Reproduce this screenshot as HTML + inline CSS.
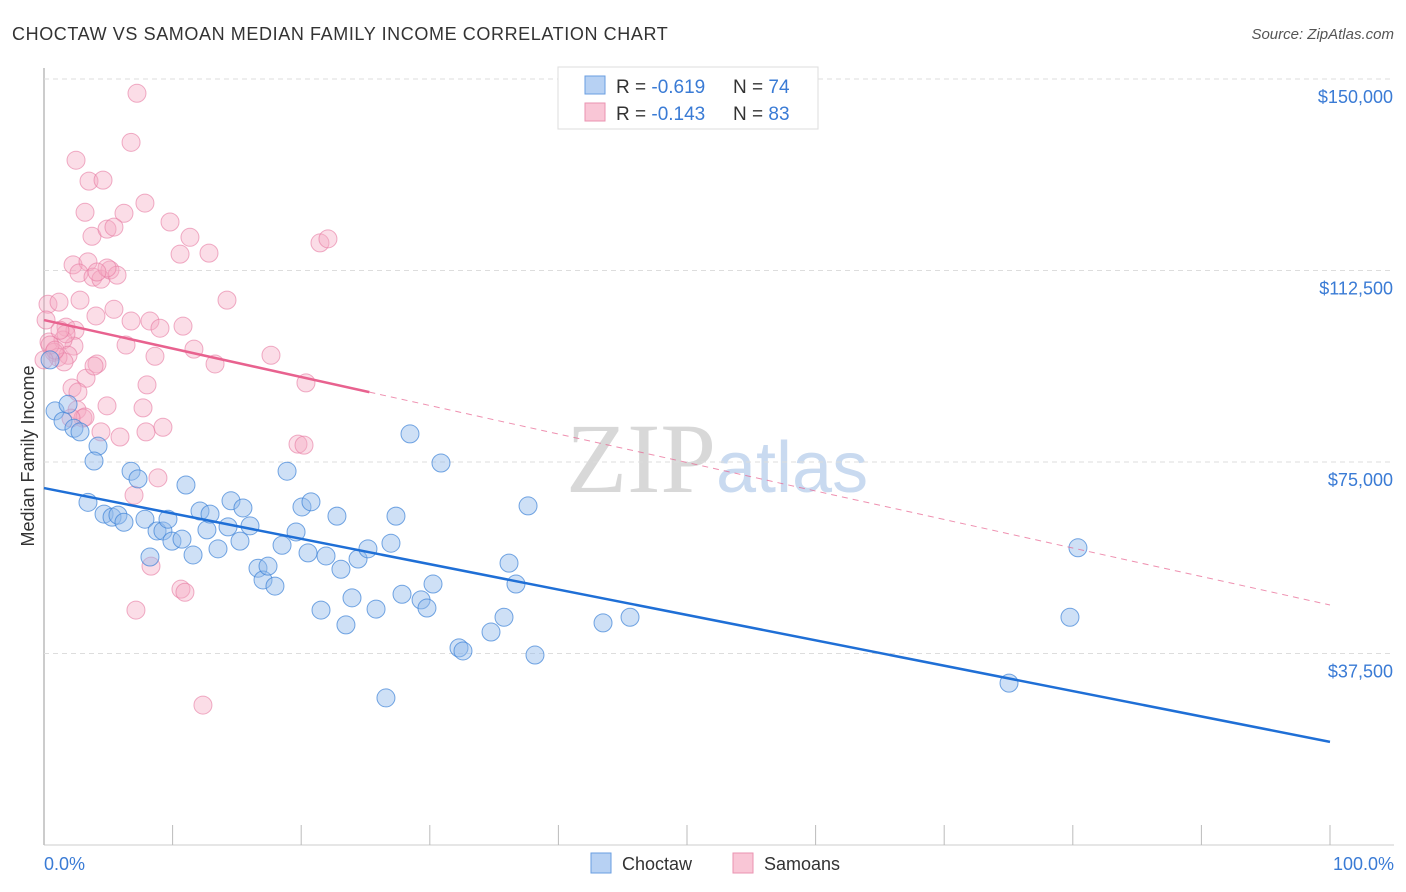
<!DOCTYPE html>
<html><head><meta charset="utf-8"><style>
body{margin:0;background:#fff;font-family:"Liberation Sans",sans-serif}
</style></head><body>
<svg id="c" width="1406" height="892" xmlns="http://www.w3.org/2000/svg" style="display:block">
<text x="12" y="40" font-size="18" fill="#333" letter-spacing="0.6">CHOCTAW VS SAMOAN MEDIAN FAMILY INCOME CORRELATION CHART</text>
<text x="1394" y="39" font-size="15" fill="#555" text-anchor="end" font-style="italic">Source: ZipAtlas.com</text>
<text x="716" y="492" font-size="100" fill="#d8d8d8" text-anchor="end" font-family="Liberation Serif">ZIP</text>
<text x="716" y="492" font-size="72" fill="#c9daf0">atlas</text>
<g id="grid"></g><g id="pts"></g><g id="lines"></g>
<text x="34" y="456" font-size="18" fill="#333" text-anchor="middle" transform="rotate(-90 34 456)">Median Family Income</text>
<text x="44" y="870" font-size="18" fill="#3a7bd5">0.0%</text>
<text x="1394" y="870" font-size="18" fill="#3a7bd5" text-anchor="end">100.0%</text>
<g>
<rect x="558" y="67" width="260" height="62" fill="#fff" stroke="#ddd"/>
<rect x="585" y="76" width="20" height="18" fill="#b7d1f3" stroke="#6a9ee0"/>
<rect x="585" y="103" width="20" height="18" fill="#f9c6d6" stroke="#ea93b0"/>
<text x="616" y="93" font-size="19" fill="#333">R = <tspan fill="#3a7bd5">-0.619</tspan></text>
<text x="733" y="93" font-size="19" fill="#333">N = <tspan fill="#3a7bd5">74</tspan></text>
<text x="616" y="120" font-size="19" fill="#333">R = <tspan fill="#3a7bd5">-0.143</tspan></text>
<text x="733" y="120" font-size="19" fill="#333">N = <tspan fill="#3a7bd5">83</tspan></text>
</g>
<g>
<rect x="591" y="853" width="20" height="20" fill="#b7d1f3" stroke="#6a9ee0"/>
<text x="622" y="870" font-size="18" fill="#333">Choctaw</text>
<rect x="733" y="853" width="20" height="20" fill="#f9c6d6" stroke="#ea93b0"/>
<text x="764" y="870" font-size="18" fill="#333">Samoans</text>
</g>
</svg>
<script>
const yTicks=[37500,75000,112500,150000];
const yTickLabels=["$37,500","$75,000","$112,500","$150,000"];
const xTicks=[0,10,20,30,40,50,60,70,80,90,100];
const choctawX=[0.86,1.48,1.87,2.33,2.80,4.20,3.89,3.42,4.67,5.29,5.75,6.22,6.77,7.31,7.85,8.24,8.79,9.25,9.64,9.95,10.73,11.04,11.59,12.13,12.67,12.91,13.53,14.31,14.54,15.24,15.47,16.02,16.64,17.03,17.42,17.96,18.51,18.90,19.60,20.06,20.53,20.76,21.54,21.93,22.78,23.09,23.48,23.95,24.42,25.19,25.82,26.98,27.37,27.84,28.46,29.32,29.78,30.25,30.87,32.27,32.58,34.76,35.77,36.16,36.70,37.64,38.18,43.47,45.57,75.04,79.78,80.40,26.59,0.47];
const choctawY=[85.0,83.0,86.3,81.6,80.9,78.1,75.2,67.1,64.8,64.2,64.6,63.2,73.2,71.7,63.8,56.4,61.5,61.5,63.8,59.5,59.9,70.5,56.8,65.4,61.7,64.8,58.0,62.3,67.4,59.5,66.0,62.5,54.2,51.9,54.6,50.7,58.7,73.2,61.3,66.2,57.2,67.2,46.0,56.6,64.4,54.0,43.1,48.4,56.0,58.0,46.2,59.1,64.4,49.1,80.5,48.0,46.4,51.1,74.8,38.6,38.0,41.7,44.6,55.2,51.1,66.4,37.2,43.5,44.6,31.7,44.6,58.2,28.8,95.0];
const samoanX=[7.23,6.77,2.49,3.50,4.59,3.19,6.22,7.85,9.80,11.35,3.73,4.90,5.44,10.58,12.83,21.46,22.08,2.26,3.42,2.72,3.81,4.43,5.13,5.68,4.90,4.12,14.23,0.31,1.17,0.16,1.71,2.41,4.04,5.44,6.77,8.24,9.02,10.81,2.33,0.39,1.48,0.78,1.87,1.09,6.38,8.63,11.66,17.65,4.12,13.30,3.27,2.18,8.01,20.37,2.64,2.57,3.03,4.90,7.70,3.19,4.43,5.91,7.93,9.25,3.89,7.00,8.86,8.32,10.65,10.96,19.75,20.22,7.15,12.36,1.56,2.10,1.71,0.47,0.86,1.24,0.0,2.80];
const samoanY=[147.2,137.6,134.1,130.0,130.2,123.9,123.7,125.7,122.0,119.0,119.2,120.6,121.0,115.7,115.9,117.9,118.7,113.6,114.2,112.0,111.2,110.8,112.6,111.6,113.0,112.2,106.7,105.9,106.3,102.8,101.4,100.8,103.6,104.9,102.6,102.6,101.2,101.6,97.7,98.5,98.9,96.5,95.9,95.5,97.9,95.7,97.1,95.9,94.2,94.2,91.4,89.5,90.1,90.5,88.7,85.2,83.6,86.0,85.6,83.8,80.9,79.9,80.9,81.8,93.8,68.5,71.9,54.6,50.1,49.5,78.5,78.3,46.0,27.4,94.6,83.6,100.1,97.9,96.9,100.8,95.0,106.7];
const choctawTrend=[69.9,20.2];
const samoanTrend=[102.8,47.0];
const samoanSolidEnd=25.3;
const NS="http://www.w3.org/2000/svg";
const sx=p=>44+p*12.86;
const sy=v=>845-v/150000*766;
function mk(t,a,parent){const e=document.createElementNS(NS,t);for(const k in a)e.setAttribute(k,a[k]);parent.appendChild(e);return e;}
const g=document.getElementById('grid'),P=document.getElementById('pts'),L=document.getElementById('lines');
const ax=mk('line',{x1:44,y1:68,x2:44,y2:845,stroke:'#bbb','stroke-width':1.5},g);


const bx=mk('line',{x1:44,y1:845,x2:1394,y2:845,stroke:'#ccc'},g);


yTicks.forEach((v,i)=>{
 const l=mk('line',{x1:44,y1:sy(v),x2:1394,y2:sy(v),stroke:'#ddd','stroke-dasharray':'5,4'},g);
 
 
 const t=mk('text',{x:1393,y:sy(v)+24,'font-size':18,fill:'#3a7bd5','text-anchor':'end'},g);
 t.textContent=yTickLabels[i];
 
 
});
xTicks.forEach(p=>{
 const l=mk('line',{x1:sx(p),y1:825,x2:sx(p),y2:845,stroke:'#bbb'},g);
 
 
});
function dots(X,Y,fill,stroke,name){X.forEach((x,i)=>{
 const c=mk('circle',{cx:sx(x),cy:sy(Y[i]*1000),r:9,fill:fill,stroke:stroke,'stroke-width':1},P);
 
 
});}
dots(samoanX,samoanY,'rgba(244,170,195,0.4)','rgba(230,120,160,0.6)','samoan-point');
dots(choctawX,choctawY,'rgba(147,187,235,0.45)','rgba(60,130,215,0.7)','choctaw-point');
const bl=mk('line',{x1:sx(0),y1:sy(choctawTrend[0]*1000),x2:sx(100),y2:sy(choctawTrend[1]*1000),stroke:'#1f6fd6','stroke-width':2.5},L);


const sv=p=>samoanTrend[0]+(samoanTrend[1]-samoanTrend[0])*p/100;
const pl=mk('line',{x1:sx(0),y1:sy(sv(0)*1000),x2:sx(samoanSolidEnd),y2:sy(sv(samoanSolidEnd)*1000),stroke:'#e8628f','stroke-width':2.5},L);


const pd=mk('line',{x1:sx(samoanSolidEnd),y1:sy(sv(samoanSolidEnd)*1000),x2:sx(100),y2:sy(sv(100)*1000),stroke:'#e8628f','stroke-width':1,'stroke-dasharray':'6,5',opacity:0.7},L);


</script>
</body></html>
